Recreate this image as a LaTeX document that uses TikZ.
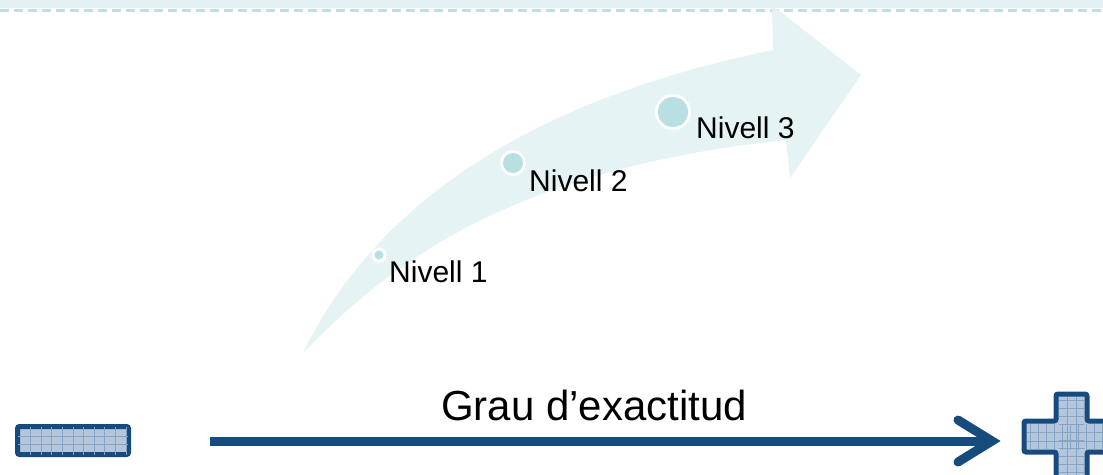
\documentclass[tikz,border=0pt]{standalone}
\usepackage{fontspec}
\setmainfont{Liberation Sans}
\usetikzlibrary{calc}
\definecolor{band}{HTML}{E5F3F5}
\definecolor{dotc}{HTML}{B8DFE2}
\definecolor{navy}{HTML}{184B7D}
\definecolor{boxfill}{HTML}{B3C6DC}
\definecolor{gridc}{HTML}{86A3C6}
\definecolor{topband}{HTML}{E3F1F2}
\definecolor{topdash}{HTML}{BEE0E3}
\tikzset{
  ring/.style={circle, fill=white, inner sep=0pt},
  dot/.style={circle, fill=dotc, inner sep=0pt},
  lvl/.style={anchor=base west, inner sep=0pt, font=\fontsize{30}{33}\selectfont, text=black},
  title/.style={anchor=base, inner sep=0pt, font=\fontsize{42}{46}\selectfont, text=black},
  conn/.style={draw=navy, line width=9pt},
  head/.style={draw=navy, line width=9pt, line cap=round, line join=miter},
  signbox/.style={draw=navy, line width=5pt, fill=boxfill, rounded corners=2pt},
}
\begin{document}
\begin{tikzpicture}[x=1pt,y=-1pt]
\useasboundingbox (0,0) rectangle (1103,474);
% top border
\fill[topband] (0,0) rectangle (1103,8);
\draw[topdash, line width=3pt, dash pattern=on 9pt off 5pt] (0,10.5) -- (1103,10.5);
% big curved arrow
\fill[band] (303,353) .. controls (358,240) and (480,110) .. (773,50)
  -- (772,5) -- (861,75) -- (790,178) -- (786,140)
  .. controls (500,170) and (382,272) .. (303,353) -- cycle;
% level markers
\node[ring, minimum size=15pt] (r1) at (379,255) {};
\node[dot, minimum size=9pt] (d1) at (r1) {};
\node[ring, minimum size=26pt] (r2) at (513,163) {};
\node[dot, minimum size=20pt] (d2) at (r2) {};
\node[ring, minimum size=36pt] (r3) at (673,112) {};
\node[dot, minimum size=30pt] (d3) at (r3) {};
\node[lvl] (t1) at (389,282) {Nivell 1};
\node[lvl] (t2) at (529,191) {Nivell 2};
\node[lvl] (t3) at (696,138) {Nivell 3};
% title
\node[title] (gt) at (594,420) {Grau d’exactitud};
% minus box
\node[signbox, minimum width=111pt, minimum height=28pt] (minus) at (73,440.5) {};
\begin{scope}
\clip ($(minus.south west)+(3,-3)$) rectangle ($(minus.north east)+(-3,3)$);
\foreach \i in {1,...,10} \draw[gridc, line width=0.8pt] (20+\i*10.6,424) -- (20+\i*10.6,457);
\foreach \j in {1,2} \draw[gridc, line width=0.8pt] (15,429+\j*7.7) -- (131,429+\j*7.7);
\end{scope}
% plus sign
\path[signbox] (1056,394) -- (1087,394) -- (1087,421) -- (1118,421) -- (1118,452)
  -- (1087,452) -- (1087,480) -- (1056,480) -- (1056,452) -- (1024,452) -- (1024,421)
  -- (1056,421) -- cycle;
\node[inner sep=0pt, minimum size=1pt] (plus) at (1071.5,436.5) {};
\begin{scope}
\clip (1059,397) rectangle (1084,477);
\foreach \j in {0,...,9} \draw[gridc, line width=0.7pt] (1056,400+\j*8) -- (1087,400+\j*8);
\draw[gridc, line width=0.7pt] (1067,394) -- (1067,480) (1076,394) -- (1076,480);
\end{scope}
\begin{scope}
\clip (1027,424) rectangle (1103,449);
\foreach \i in {0,...,9} \draw[gridc, line width=0.7pt] (1030+\i*8,421) -- (1030+\i*8,452);
\draw[gridc, line width=0.7pt] (1024,432) -- (1103,432) (1024,441) -- (1103,441);
\end{scope}
% horizontal arrow
\coordinate (gs) at (210,441);
\coordinate (ge) at (990,441);
\draw[conn] (gs) -- (ge);
\draw[head] ($(ge)+(-32,-21)$) -- ($(ge)+(2,0)$) -- ($(ge)+(-32,21)$);
\end{tikzpicture}
\end{document}
